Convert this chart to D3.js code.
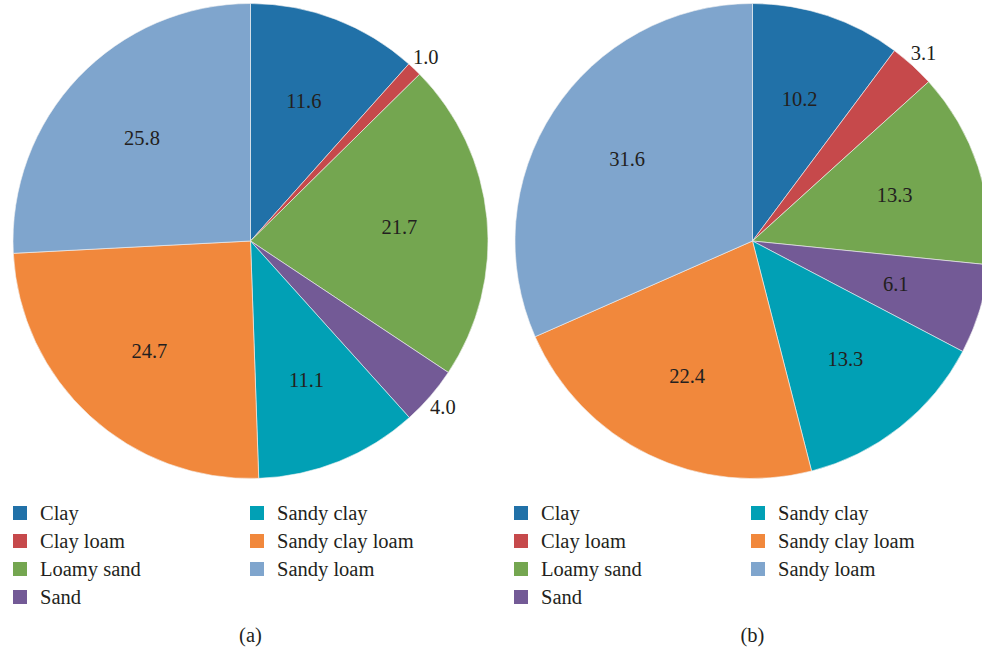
<!DOCTYPE html>
<html>
<head>
<meta charset="utf-8">
<script src="https://cdn.jsdelivr.net/npm/d3@7"></script>
<style>
  html, body { margin: 0; padding: 0; background: #fff; }
  svg { display: block; }
</style>
</head>
<body>
<svg id="chart" width="982" height="652"></svg>
<script>
// Soil texture classes, clockwise from 12 o'clock
const categories = ["Clay", "Clay loam", "Loamy sand", "Sand", "Sandy clay", "Sandy clay loam", "Sandy loam"];
const colors = ["#2171a8", "#c6494b", "#74a650", "#735a96", "#01a0b5", "#f1883c", "#7fa5cd"];

// Percentage share per class
const valuesA = [11.6, 1.0, 21.7, 4.0, 11.1, 24.7, 25.8];
const valuesB = [10.2, 3.1, 13.3, 6.1, 13.3, 22.4, 31.6];

const panelLabels = ["(a)", "(b)"];

// Classes whose labels sit outside the pie, per panel
const outsideA = ["Clay loam", "Sand"];
const outsideB = ["Clay loam"];

const FONT = "Liberation Serif";
const INK = "#231f20";

const svg = d3.select("#chart");
const color = d3.scaleOrdinal().domain(categories).range(colors);
const radius = 237.5;

const panels = [
  { values: valuesA, outside: outsideA, cx: 250.5, cy: 241, legendX: 13, caption: panelLabels[0] },
  { values: valuesB, outside: outsideB, cx: 752.5, cy: 241, legendX: 514, caption: panelLabels[1] }
];

const pie = d3.pie().sort(null).value(d => d.value);
const arc = d3.arc().innerRadius(0).outerRadius(radius);
const labelArc = d3.arc().innerRadius(radius * 0.63).outerRadius(radius * 0.63);
const outerArc = d3.arc().innerRadius(radius * 1.07).outerRadius(radius * 1.07);

function styleText(sel) {
  return sel.attr("font-family", FONT).attr("font-size", 20.5).attr("fill", INK);
}

panels.forEach(p => {
  const data = categories.map((c, i) => ({ name: c, value: p.values[i] }));
  const arcs = pie(data);
  const g = svg.append("g").attr("transform", `translate(${p.cx},${p.cy})`);

  g.selectAll("path.slice")
    .data(arcs)
    .join("path")
    .attr("class", "slice")
    .attr("d", arc)
    .attr("fill", d => color(d.data.name))
    .attr("stroke", "#f4f4f4")
    .attr("stroke-width", 0.6);

  g.selectAll("text.value")
    .data(arcs)
    .join("text")
    .attr("class", "value")
    .attr("transform", d => {
      const pos = p.outside.includes(d.data.name) ? outerArc.centroid(d) : labelArc.centroid(d);
      return `translate(${pos[0]},${pos[1]})`;
    })
    .attr("text-anchor", "middle")
    .attr("dy", "0.35em")
    .call(styleText)
    .text(d => d3.format(".1f")(d.data.value));

  // Legend: two columns, four rows
  const legend = svg.append("g").attr("transform", `translate(${p.legendX},506)`);
  const item = legend.selectAll("g.item")
    .data(categories)
    .join("g")
    .attr("class", "item")
    .attr("transform", (d, i) => `translate(${i < 4 ? 0 : 237},${(i % 4) * 28})`);
  item.append("rect")
    .attr("width", 14)
    .attr("height", 14)
    .attr("fill", d => color(d));
  item.append("text")
    .attr("x", 27)
    .attr("y", 7)
    .attr("dy", "0.35em")
    .call(styleText)
    .text(d => d);

  svg.append("text")
    .attr("x", p.cx)
    .attr("y", 635)
    .attr("dy", "0.35em")
    .attr("text-anchor", "middle")
    .call(styleText)
    .text(p.caption);
});
</script>
</body>
</html>
